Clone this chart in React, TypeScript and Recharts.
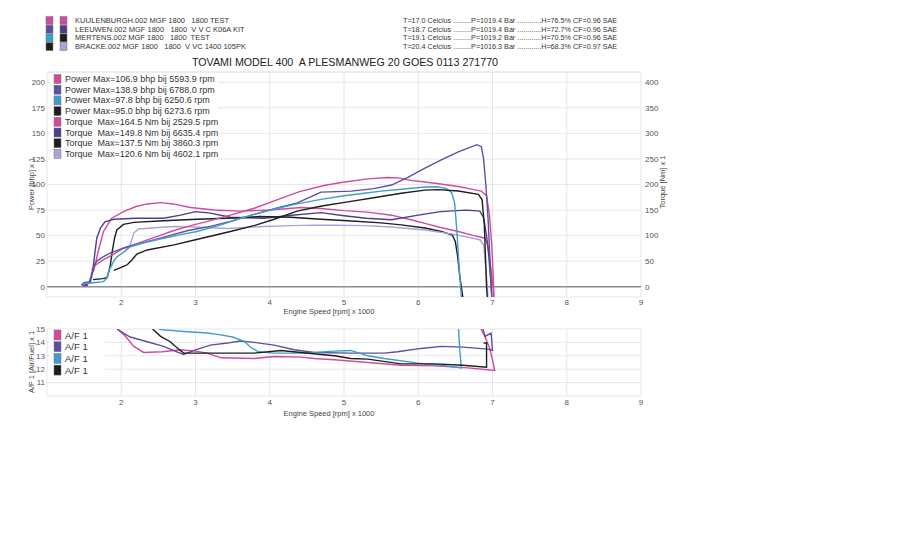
import React from 'react';
import { LineChart, Line, XAxis, YAxis, CartesianGrid, ReferenceLine } from 'recharts';

type Pt = [number, number];

// engine speed is plotted in rpm x 1000
const rpmTicks = [2, 3, 4, 5, 6, 7, 8, 9];
const powerTicks = [0, 25, 50, 75, 100, 125, 150, 175, 200];
const torqueTicks = [0, 50, 100, 150, 200, 250, 300, 350, 400];
const afrTicks = [11, 12, 13, 14, 15];

const runNames = [
  'KUIJLENBURGH.002 MGF 1800   1800 TEST',
  'LEEUWEN.002 MGF 1800   1800  V V C K06A KIT',
  'MERTENS.002 MGF 1800   1800  TEST',
  'BRACKE.002 MGF 1800   1800  V VC 1400 105PK',
];

const runConditions = [
  'T=17.0 Celcius .........P=1019.4 Bar ............H=76.5% CF=0.96 SAE',
  'T=18.7 Celcius .........P=1019.4 Bar ............H=72.7% CF=0.96 SAE',
  'T=19.1 Celcius .........P=1019.2 Bar ............H=70.5% CF=0.96 SAE',
  'T=20.4 Celcius .........P=1016.3 Bar ............H=68.3% CF=0.97 SAE',
];

const powerLegend = [
  'Power Max=106.9 bhp bij 5593.9 rpm',
  'Power Max=138.9 bhp bij 6788.0 rpm',
  'Power Max=97.8 bhp bij 6250.6 rpm',
  'Power Max=95.0 bhp bij 6273.6 rpm',
];

const torqueLegend = [
  'Torque  Max=164.5 Nm bij 2529.5 rpm',
  'Torque  Max=149.8 Nm bij 6635.4 rpm',
  'Torque  Max=137.5 Nm bij 3860.3 rpm',
  'Torque  Max=120.6 Nm bij 4602.1 rpm',
];

const afrLegend = ['A/F 1', 'A/F 1', 'A/F 1', 'A/F 1'];

// power curves [rpm x 1000, bhp]
const kuijPower: Pt[] = [
  [1.6, 16], [1.65, 21], [1.75, 26], [1.9, 32], [2.03, 38], [2.2, 42], [2.4, 47], [2.71, 55],
  [2.95, 60], [3.16, 64], [3.47, 70], [3.8, 77], [4.06, 84], [4.4, 93], [4.73, 99], [4.96, 102],
  [5.32, 105.5], [5.59, 106.9], [5.73, 106.5], [5.9, 104], [6.09, 102.5], [6.3, 100.5], [6.54, 98],
  [6.75, 95], [6.85, 93.5], [6.92, 89], [6.96, 70], [6.99, 40], [7.01, 10], [7.02, -10],
];
const leeuwenPower: Pt[] = [
  [1.52, 1], [1.47, 2], [1.5, 4], [1.57, 5], [1.6, 12], [1.63, 20], [1.67, 25], [1.75, 29],
  [1.85, 33], [2.0, 37], [2.3, 43], [2.6, 49], [2.9, 55], [3.2, 59], [3.47, 64], [3.8, 71],
  [4.1, 77], [4.37, 82], [4.55, 88], [4.69, 92.5], [4.9, 93], [5.1, 93.5], [5.4, 96], [5.64, 99.5],
  [5.86, 107], [6.09, 116], [6.31, 124], [6.54, 132], [6.79, 138.9], [6.85, 137], [6.88, 125],
  [6.91, 100], [6.94, 67], [6.97, 20], [6.99, -10],
];
const mertensPower: Pt[] = [
  [1.5, 3], [1.62, 4], [1.76, 5], [1.8, 8], [1.85, 18], [1.9, 25], [1.94, 29], [2.05, 35],
  [2.12, 39], [2.3, 43], [2.57, 47.5], [2.8, 51], [3.02, 54], [3.34, 60.5], [3.61, 67], [3.85, 72],
  [4.06, 76], [4.37, 81], [4.69, 85.5], [5.0, 89], [5.27, 91.4], [5.5, 93.5], [5.77, 95.3],
  [6.09, 97.5], [6.25, 97.8], [6.38, 96], [6.45, 92], [6.49, 82], [6.52, 55], [6.55, 20],
  [6.57, 0], [6.58, -10],
];
const brackePower: Pt[] = [
  [1.9, 16], [2.0, 19], [2.08, 21.5], [2.14, 26], [2.21, 32], [2.35, 36], [2.71, 41], [3.0, 46],
  [3.47, 54], [3.8, 60], [4.06, 66], [4.37, 74], [4.7, 79], [5.05, 83], [5.4, 87], [5.77, 91.4],
  [6.09, 94.5], [6.27, 95], [6.54, 93.7], [6.81, 90.4], [6.86, 85], [6.89, 60], [6.91, 20],
  [6.92, 0], [6.93, -10],
];

// torque curves [rpm x 1000, Nm]
const kuijTorque: Pt[] = [
  [1.6, 26], [1.63, 32], [1.69, 69], [1.76, 108], [1.87, 134], [2.03, 147], [2.2, 157], [2.35, 162],
  [2.53, 164.5], [2.7, 162], [2.93, 155], [3.25, 150], [3.6, 148], [4.0, 150], [4.42, 155],
  [4.69, 153], [5.0, 149], [5.32, 146], [5.64, 140], [5.9, 131], [6.09, 124], [6.3, 116],
  [6.54, 108], [6.75, 100], [6.9, 95], [6.94, 80], [6.97, 45], [7.0, 10], [7.02, -20],
];
const leeuwenTorque: Pt[] = [
  [1.55, 3], [1.48, 2], [1.52, 4], [1.58, 8], [1.61, 25], [1.64, 60], [1.67, 95], [1.72, 115],
  [1.78, 127], [1.9, 132], [2.2, 134], [2.57, 134], [2.8, 140], [3.0, 147], [3.2, 144], [3.47, 136],
  [3.92, 134], [4.3, 140], [4.69, 145], [5.0, 139], [5.3, 134], [5.64, 131], [6.0, 140], [6.3, 147],
  [6.64, 149.8], [6.83, 148], [6.88, 135], [6.92, 100], [6.95, 60], [6.98, 5], [6.99, -20],
];
const mertensTorque: Pt[] = [
  [1.62, 14], [1.75, 16], [1.81, 18], [1.85, 40], [1.88, 70], [1.91, 95], [1.94, 111], [2.03, 122],
  [2.17, 126], [2.57, 129], [3.02, 132], [3.61, 135], [3.86, 137.5], [4.28, 136], [4.69, 132],
  [5.05, 129], [5.5, 125], [5.77, 121], [6.09, 115], [6.31, 108], [6.46, 101], [6.5, 88],
  [6.53, 60], [6.56, 20], [6.58, 0], [6.6, -20],
];
const brackeTorque: Pt[] = [
  [2.05, 68], [2.08, 75], [2.12, 82], [2.17, 105], [2.23, 113], [2.5, 116], [2.71, 118], [3.0, 117],
  [3.43, 114], [3.92, 118], [4.3, 119.5], [4.6, 120.6], [4.87, 120.3], [5.27, 119.5], [5.64, 117],
  [6.09, 111], [6.47, 103], [6.83, 92], [6.88, 82], [6.91, 36], [6.93, 0], [6.94, -20],
];

// air/fuel ratio [rpm x 1000, A/F]
const kuijAfr: Pt[] = [
  [1.9, 15.5], [1.95, 15], [2.05, 14.5], [2.17, 13.7], [2.3, 13.25], [2.55, 13.3], [2.8, 13.45],
  [3.0, 13.35], [3.16, 13.2], [3.34, 12.85], [3.79, 12.8], [4.06, 12.95], [4.42, 12.9], [4.6, 12.8],
  [4.87, 12.7], [5.32, 12.5], [5.77, 12.3], [6.22, 12.25], [6.67, 12.1], [7.03, 11.9], [7.0, 12.7],
  [6.96, 13.6], [6.9, 14.4], [6.82, 15.3],
];
const leeuwenAfr: Pt[] = [
  [1.9, 15.3], [1.97, 14.9], [2.12, 14.4], [2.35, 14.05], [2.57, 13.7], [2.75, 13.3], [2.84, 13.1],
  [2.98, 13.4], [3.2, 13.8], [3.43, 13.95], [3.6, 14.1], [3.79, 14.0], [4.06, 13.8], [4.33, 13.45],
  [4.6, 13.25], [5.09, 13.2], [5.54, 13.2], [5.72, 13.3], [6.04, 13.55], [6.31, 13.7], [6.6, 13.65],
  [6.94, 13.5], [7.0, 13.4], [6.99, 14.1], [6.98, 14.7], [6.9, 14.45], [6.86, 15.2],
];
const mertensAfr: Pt[] = [
  [2.4, 15.3], [2.53, 14.95], [2.89, 14.8], [3.16, 14.7], [3.3, 14.6], [3.5, 14.4], [3.65, 14.1],
  [3.75, 13.6], [3.85, 13.3], [4.06, 13.2], [4.42, 13.2], [4.87, 13.35], [5.09, 13.4], [5.32, 13.0],
  [5.54, 12.8], [6.0, 12.45], [6.3, 12.3], [6.58, 12.1], [6.56, 13.4], [6.54, 15.3],
];
const brackeAfr: Pt[] = [
  [2.38, 15.3], [2.44, 14.9], [2.53, 14.45], [2.66, 14.05], [2.75, 13.6], [2.84, 13.2], [3.0, 13.2],
  [3.34, 13.2], [3.79, 13.2], [4.15, 13.4], [4.42, 13.25], [4.87, 13.0], [5.09, 12.8], [5.32, 12.75],
  [5.77, 12.4], [6.22, 12.4], [6.6, 12.3], [6.92, 12.15], [6.92, 13.95], [6.88, 13.95],
];

const MAGENTA = '#d24a9e';
const PURPLE = '#5b4fa3';
const VIOLET = '#4a3f8c';
const CYAN = '#3e9dcc';
const BLACK = '#1e1e1e';
const LAVENDER = '#aba4dc';

const FONT = '"Liberation Sans", Arial, sans-serif';

const powerColors = [MAGENTA, PURPLE, CYAN, BLACK];
const torqueColors = [MAGENTA, VIOLET, BLACK, LAVENDER];
const afrColors = [MAGENTA, PURPLE, CYAN, BLACK];

const pts = (d: Pt[]) => d.map(([rpm, v]) => ({ rpm, v }));

const powerSeries = [kuijPower, leeuwenPower, mertensPower, brackePower].map((d, i) => ({
  key: `p${i}`,
  data: pts(d),
  color: powerColors[i],
}));
const torqueSeries = [kuijTorque, leeuwenTorque, mertensTorque, brackeTorque].map((d, i) => ({
  key: `t${i}`,
  data: pts(d),
  color: torqueColors[i],
}));
const afrSeries = [kuijAfr, leeuwenAfr, mertensAfr, brackeAfr].map((d, i) => ({
  key: `a${i}`,
  data: pts(d),
  color: afrColors[i],
}));

const tickStyle = { fontSize: 8, fill: '#555', fontFamily: FONT };
const GRID = '#e6e6ec';

const Swatch = ({ x, y, w, h, color }: { x: number; y: number; w: number; h: number; color: string }) => (
  <rect x={x} y={y} width={w} height={h} fill={color} stroke="#777" strokeWidth={0.5} />
);

const App: React.FC = () => {
  return (
    <div
      style={{
        position: 'absolute',
        left: 0,
        top: 0,
        width: 912,
        height: 552,
        background: '#fff',
        fontFamily: FONT,
      }}
    >
      {/* power / torque panel */}
      <div style={{ position: 'absolute', left: 0, top: 0 }}>
        <LineChart width={700} height={320} margin={{ top: 72, right: 19, bottom: 3, left: 0 }}>
          <CartesianGrid stroke={GRID} />
          <XAxis
            type="number"
            dataKey="rpm"
            domain={[1, 9]}
            ticks={rpmTicks}
            interval={0}
            allowDataOverflow
            axisLine={false}
            tickLine={false}
            tickSize={0}
            tickMargin={2}
            height={20}
            tick={tickStyle}
          />
          <YAxis
            domain={[-10, 210]}
            ticks={powerTicks}
            interval={0}
            allowDataOverflow
            axisLine={false}
            tickLine={false}
            tickSize={0}
            tickMargin={2}
            width={47}
            tick={tickStyle}
          />
          <YAxis
            yAxisId="torque"
            orientation="right"
            domain={[-20, 420]}
            ticks={torqueTicks}
            interval={0}
            allowDataOverflow
            axisLine={false}
            tickLine={false}
            tickSize={0}
            tickMargin={4}
            width={40}
            tick={tickStyle}
          />
          <ReferenceLine y={210} stroke={GRID} />
          <ReferenceLine y={0} stroke="#8e8e8e" strokeWidth={1.5} />
          {torqueSeries.map((s) => (
            <Line
              key={s.key}
              yAxisId="torque"
              data={s.data}
              dataKey="v"
              type="linear"
              stroke={s.color}
              strokeWidth={1.4}
              dot={false}
              isAnimationActive={false}
            />
          ))}
          {powerSeries.map((s) => (
            <Line
              key={s.key}
              data={s.data}
              dataKey="v"
              type="linear"
              stroke={s.color}
              strokeWidth={1.4}
              dot={false}
              isAnimationActive={false}
            />
          ))}
        </LineChart>
      </div>

      {/* air/fuel panel */}
      <div style={{ position: 'absolute', left: 0, top: 300 }}>
        <LineChart width={700} height={120} margin={{ top: 29, right: 59, bottom: 4, left: 0 }}>
          <CartesianGrid stroke={GRID} />
          <XAxis
            type="number"
            dataKey="rpm"
            domain={[1, 9]}
            ticks={rpmTicks}
            interval={0}
            allowDataOverflow
            axisLine={false}
            tickLine={false}
            tickSize={0}
            tickMargin={3}
            height={20}
            tick={tickStyle}
          />
          <YAxis
            domain={[10, 15]}
            ticks={afrTicks}
            interval={0}
            allowDataOverflow
            axisLine={false}
            tickLine={false}
            tickSize={0}
            tickMargin={2}
            width={47}
            tick={tickStyle}
          />
          {afrSeries.map((s) => (
            <Line
              key={s.key}
              data={s.data}
              dataKey="v"
              type="linear"
              stroke={s.color}
              strokeWidth={1.4}
              dot={false}
              isAnimationActive={false}
            />
          ))}
        </LineChart>
      </div>

      {/* header, legends and axis titles */}
      <svg
        width={912}
        height={552}
        style={{ position: 'absolute', left: 0, top: 0, pointerEvents: 'none', fontFamily: FONT }}
      >
        {runNames.map((name, i) => {
          const cy = 20.5 + i * 8.7;
          return (
            <g key={name}>
              <Swatch x={46} y={cy - 4} w={7} h={8} color={powerColors[i]} />
              <Swatch x={60} y={cy - 4} w={7} h={8} color={torqueColors[i]} />
              <text x={75} y={cy} fontSize={7.5} fill="#333" dominantBaseline="central" style={{ whiteSpace: 'pre' }}>
                {name}
              </text>
            </g>
          );
        })}
        {runConditions.map((c, i) => (
          <text
            key={c}
            x={403}
            y={20.5 + i * 8.7}
            fontSize={7.2}
            fill="#333"
            dominantBaseline="central"
            style={{ whiteSpace: 'pre' }}
          >
            {c}
          </text>
        ))}

        <text x={345} y={62} fontSize={10.7} fill="#222" textAnchor="middle" dominantBaseline="central" style={{ whiteSpace: 'pre' }}>
          TOVAMI MODEL 400  A PLESMANWEG 20 GOES 0113 271770
        </text>

        {/* legend of the power / torque panel */}
        <rect x={50} y={73} width={168} height={87} fill="#fff" />
        {[...powerLegend, ...torqueLegend].map((label, i) => {
          const cy = 79 + i * 10.7;
          const color = i < 4 ? powerColors[i] : torqueColors[i - 4];
          return (
            <g key={label}>
              <Swatch x={54} y={cy - 4.5} w={7} h={9} color={color} />
              <text x={65} y={cy} fontSize={9} fill="#333" dominantBaseline="central" style={{ whiteSpace: 'pre' }}>
                {label}
              </text>
            </g>
          );
        })}

        {/* legend of the air/fuel panel */}
        <rect x={50} y={331} width={55} height={46} fill="#fff" />
        {afrLegend.map((label, i) => {
          const cy = 335 + i * 11.7;
          return (
            <g key={i}>
              <Swatch x={54} y={cy - 5} w={7} h={10} color={afrColors[i]} />
              <text x={65} y={cy} fontSize={9.5} fill="#333" dominantBaseline="central">
                {label}
              </text>
            </g>
          );
        })}

        <text x={329} y={311} fontSize={7.5} fill="#444" textAnchor="middle" dominantBaseline="central">
          Engine Speed [rpm] x 1000
        </text>
        <text x={329} y={413} fontSize={7.5} fill="#444" textAnchor="middle" dominantBaseline="central">
          Engine Speed [rpm] x 1000
        </text>
        <text x={31} y={184} fontSize={7.5} fill="#444" textAnchor="middle" dominantBaseline="central" transform="rotate(-90 31 184)">
          Power [bhp] x 1
        </text>
        <text x={662} y={182} fontSize={7.5} fill="#444" textAnchor="middle" dominantBaseline="central" transform="rotate(-90 662 182)">
          Torque [Nm] x 1
        </text>
        <text x={31} y={362} fontSize={7.5} fill="#444" textAnchor="middle" dominantBaseline="central" transform="rotate(-90 31 362)">
          A/F 1 [Air/Fuel] x 1
        </text>
      </svg>
    </div>
  );
};

export default App;
